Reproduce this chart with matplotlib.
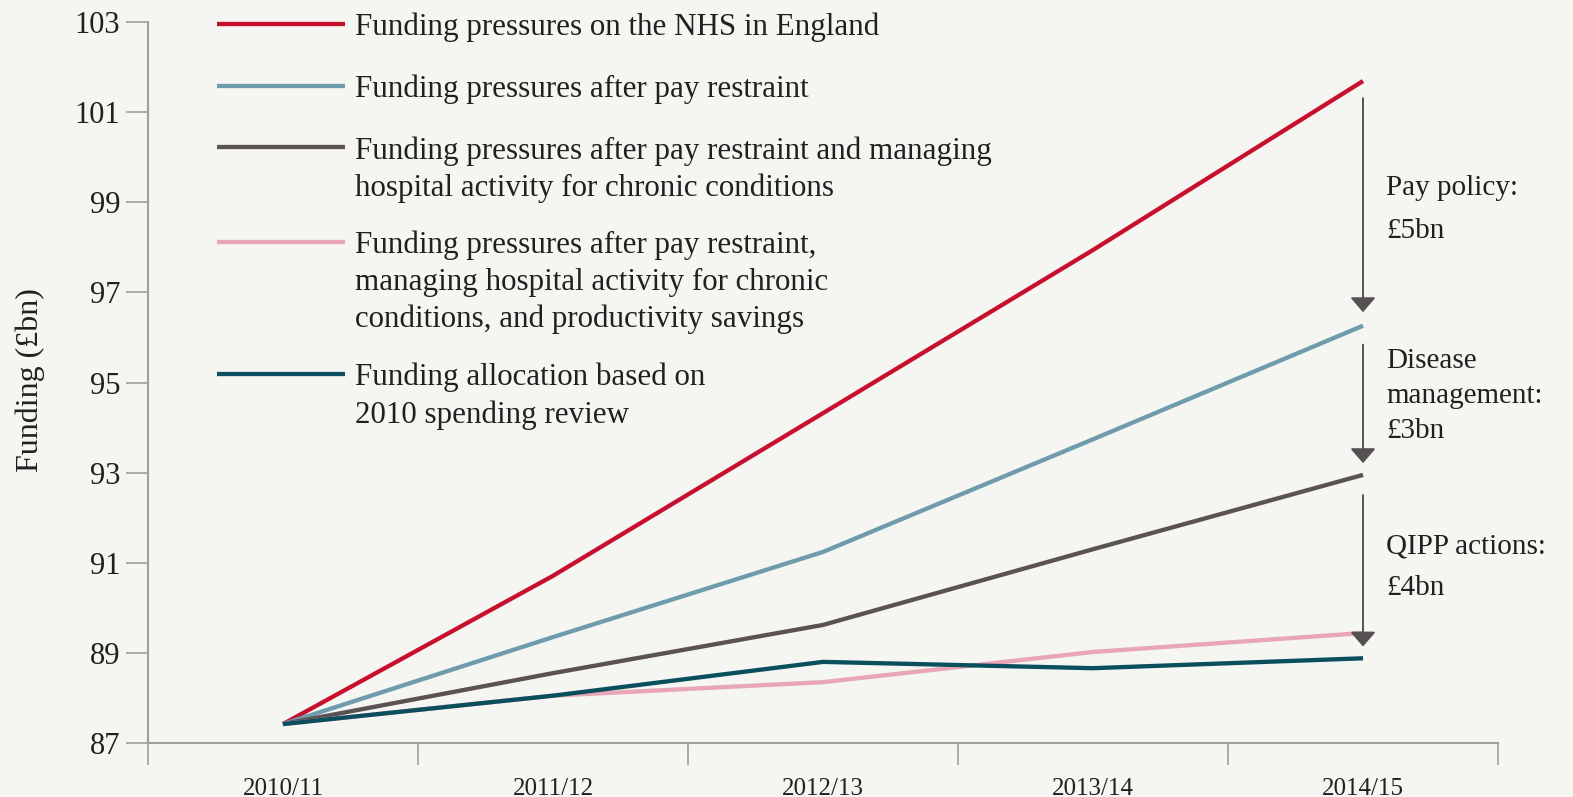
import matplotlib.pyplot as plt
from matplotlib.lines import Line2D

# ----------------------------------------------------------------------
# data (£bn)
# ----------------------------------------------------------------------
years = ["2010/11", "2011/12", "2012/13", "2013/14", "2014/15"]

pressures      = [87.42, 90.71, 94.32, 97.94, 101.69]
after_pay      = [87.42, 89.35, 91.24, 93.74, 96.26]
after_chronic  = [87.42, 88.55, 89.62, 91.30, 92.95]
after_qipp     = [87.42, 88.05, 88.35, 89.02, 89.44]
allocation     = [87.42, 88.05, 88.80, 88.66, 88.88]

labels = [
    "Funding pressures on the NHS in England",
    "Funding pressures after pay restraint",
    "Funding pressures after pay restraint and managing\nhospital activity for chronic conditions",
    "Funding pressures after pay restraint,\nmanaging hospital activity for chronic\nconditions, and productivity savings",
    "Funding allocation based on\n2010 spending review",
]

savings_text = ["Pay policy:\n£5bn", "Disease\nmanagement:\n£3bn", "QIPP actions:\n£4bn"]

# ----------------------------------------------------------------------
# style
# ----------------------------------------------------------------------
BG = "#f5f5f1"
TXT = "#231f20"
AXC = "#a09d9d"
ARROW = "#555052"
colors = ["#c8102e", "#6e9cac", "#5b5254", "#e8a6b6", "#0b4f5e"]

plt.rcParams["font.family"] = ["Liberation Serif", "DejaVu Serif"]

W, H = 1573, 797
fig = plt.figure(figsize=(W / 100, H / 100), dpi=100)
fig.patch.set_facecolor(BG)
ax = fig.add_axes([148 / W, 1 - 743 / H, 1350 / W, 721 / H])
ax.set_facecolor(BG)

series = [pressures, after_pay, after_chronic, after_qipp, allocation]
x = list(range(len(years)))
for i in range(len(series)):
    ax.plot(x, series[i], color=colors[i], lw=3.1, solid_capstyle="butt",
            solid_joinstyle="round", zorder=3)

ax.set_xlim(-0.5, len(years) - 0.5)
ax.set_ylim(87, 103)
ax.set_yticks(range(87, 104, 2))

# category boundaries as major ticks, labels on minor ticks
ax.set_xticks([i - 0.5 for i in range(len(years) + 1)])
ax.set_xticklabels([])
ax.set_xticks(x, minor=True)
ax.set_xticklabels(years, minor=True, fontsize=18, color=TXT)
ax.tick_params(axis="x", which="major", length=16, width=1.2, color=AXC)
ax.tick_params(axis="x", which="minor", length=0, pad=25)
ax.tick_params(axis="y", length=16, width=1.2, color=AXC, pad=4,
               labelsize=22, labelcolor=TXT)

for side in ["top", "right"]:
    ax.spines[side].set_visible(False)
for side in ["left", "bottom"]:
    ax.spines[side].set_color(AXC)
    ax.spines[side].set_linewidth(1.5)

fig.text(30 / W, 1 - 380 / H, "Funding (£bn)", rotation=90, ha="center",
         va="center", fontsize=23, color=TXT)

# ----------------------------------------------------------------------
# legend drawn by hand so each key sits on the first text line
# ----------------------------------------------------------------------
legend_rows = [24, 86, 147, 242, 374]
for i, lab in enumerate(labels):
    yf = 1 - legend_rows[i] / H
    fig.add_artist(Line2D([217 / W, 345 / W], [yf, yf], color=colors[i],
                          lw=3.1, solid_capstyle="butt"))
    fig.text(355 / W, 1 - (legend_rows[i] - 11) / H, lab, ha="left",
             va="top", fontsize=22.3, color=TXT, linespacing=1.34)

# ----------------------------------------------------------------------
# saving arrows at 2014/15
# ----------------------------------------------------------------------
last = len(years) - 1
pairs = [(pressures, after_pay), (after_pay, after_chronic), (after_chronic, after_qipp)]
tops_gap = [0.38, 0.42, 0.45]
tip_gap = [0.3, 0.26, -0.3]
for k, (hi, lo) in enumerate(pairs):
    y0 = hi[last] - tops_gap[k]
    y1 = lo[last] + tip_gap[k]
    ax.annotate("", xy=(last, y1), xytext=(last, y0),
                arrowprops=dict(arrowstyle="-|>,head_length=0.9,head_width=0.78",
                                color=ARROW, lw=1.4, shrinkA=0, shrinkB=0),
                zorder=4)

text_y = [99.60, 95.77, 91.66]
text_ls = [1.82, 1.45, 1.82]
for k, t in enumerate(savings_text):
    ax.text(last + 0.085, text_y[k], t, ha="left", va="top", fontsize=21,
            color=TXT, linespacing=text_ls[k])

fig.savefig("out.png", dpi=100, facecolor=BG)
